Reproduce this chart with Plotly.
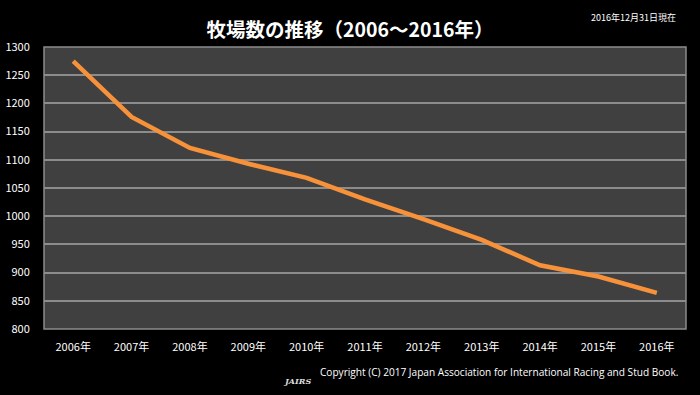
import plotly.graph_objects as go

years = ["2006年", "2007年", "2008年", "2009年", "2010年", "2011年",
         "2012年", "2013年", "2014年", "2015年", "2016年"]
farms = [1275, 1176, 1121, 1093, 1068, 1030, 995, 958, 913, 893, 864]
y_ticks = list(range(800, 1301, 50))

font_family = "Noto Sans CJK JP, Noto Sans, sans-serif"

W, H = 700, 395
L, R, T, B = 44, 14, 47, 66
ph = H - T - B
pw = W - L - R

def px_x(x):
    return (x - L) / pw

def px_y(y):
    return (H - B - y) / ph

fig = go.Figure()
fig.add_trace(go.Scatter(
    x=years, y=farms, mode="lines",
    line=dict(color="#F7923A", width=4.5),
    hoverinfo="x+y",
))

fig.update_layout(
    width=W, height=H,
    paper_bgcolor="#000000",
    plot_bgcolor="#404040",
    margin=dict(l=L, r=R, t=T, b=B, autoexpand=False),
    showlegend=False,
    font=dict(family=font_family, color="#FFFFFF", size=11),
    title=dict(
        text="<b>牧場数の推移（2006～2016年）</b>",
        x=0.5, xanchor="center", y=1 - 30 / H, yanchor="middle",
        font=dict(size=19.5, color="#FFFFFF", family=font_family),
    ),
    xaxis=dict(
        type="category", range=[-0.5, 10.5], automargin=False,
        showgrid=False, zeroline=False,
        showline=False, ticks="outside", ticklen=8, tickcolor="rgba(0,0,0,0)",
        tickfont=dict(size=11, color="#FFFFFF"),
        fixedrange=True,
    ),
    yaxis=dict(
        range=[800, 1300], tickvals=y_ticks, automargin=False,
        showgrid=True, gridcolor="#8C8C8C", gridwidth=1.5,
        zeroline=False, showline=False,
        ticks="outside", ticklen=11, tickcolor="rgba(0,0,0,0)",
        tickfont=dict(size=11, color="#FFFFFF"),
        fixedrange=True,
    ),
    shapes=[dict(type="rect", xref="paper", yref="paper", x0=0, x1=1, y0=0, y1=1,
                 line=dict(color="#8C8C8C", width=1.5), fillcolor="rgba(0,0,0,0)", layer="below")],
    annotations=[
        dict(text="2016年12月31日現在", xref="paper", yref="paper",
             x=px_x(678), y=px_y(18), xanchor="right", yanchor="middle", showarrow=False,
             font=dict(size=9, color="#FFFFFF")),
        dict(text="Copyright (C) 2017 Japan Association for International Racing and Stud Book.",
             xref="paper", yref="paper", x=px_x(680), y=px_y(372), xanchor="right", yanchor="middle",
             showarrow=False,
             font=dict(size=10.1, color="#FFFFFF", family="Open Sans, DejaVu Sans, sans-serif")),
        dict(text="<i><b>JAIRS</b></i>", xref="paper", yref="paper", x=px_x(297), y=px_y(381),
             xanchor="center", yanchor="middle", showarrow=False,
             font=dict(size=8, color="#DDDDDD", family="DejaVu Serif, serif")),
    ],
)

fig.write_html("out.html", config={"displayModeBar": False},
               post_script="document.body.style.margin='0';document.body.style.background='#000';")
